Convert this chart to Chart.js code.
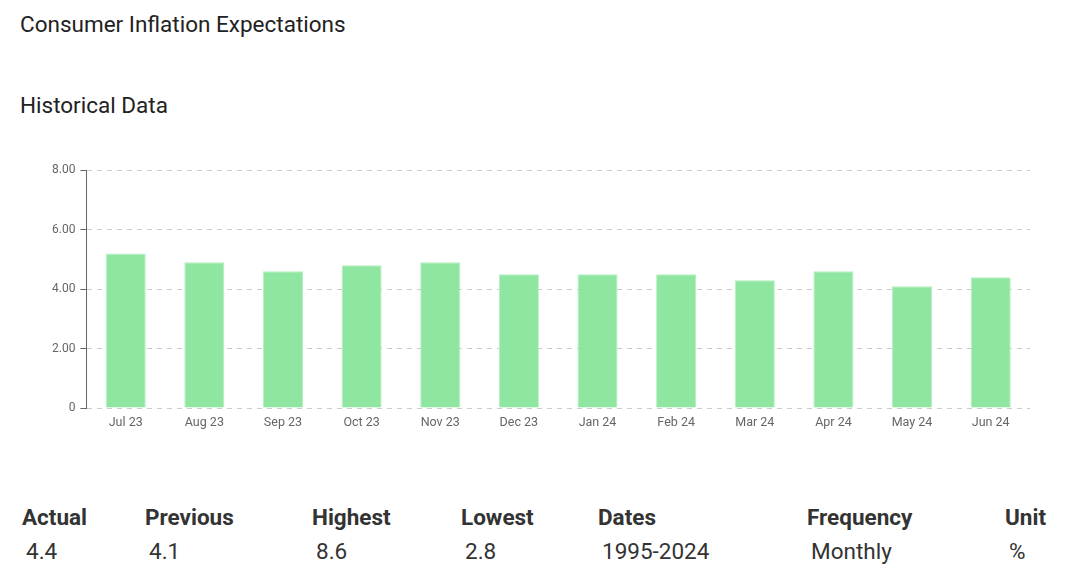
<!DOCTYPE html>
<html>
<head>
<meta charset="utf-8">
<script src="https://cdn.jsdelivr.net/npm/chart.js@4/dist/chart.umd.min.js"></script>
<style>
  html, body { margin:0; padding:0; background:#fff; width:1087px; height:586px; overflow:hidden; font-family: Roboto, sans-serif; color:#222; }
  .t1 { position:absolute; left:20px; top:11px; font-size:22.5px; }
  .t2 { position:absolute; left:20px; top:92px; font-size:22.5px; }
  #wrap { position:absolute; left:47px; top:158px; width:983px; height:271px; }
  .cell { position:absolute; font-size:22.5px; }
  .h { top:504px; font-weight:bold; color:#333; }
  .v { top:538px; color:#333; }
</style>
</head>
<body>
<div class="t1">Consumer Inflation Expectations</div>
<div class="t2">Historical Data</div>
<div id="wrap"><canvas id="c"></canvas></div>
<div id="table"></div>
<script>
const categories = ["Jul 23","Aug 23","Sep 23","Oct 23","Nov 23","Dec 23","Jan 24","Feb 24","Mar 24","Apr 24","May 24","Jun 24"];
const values = [5.2, 4.9, 4.6, 4.8, 4.9, 4.5, 4.5, 4.5, 4.3, 4.6, 4.1, 4.4];
const yTicks = [0, 2, 4, 6, 8];
const statHeaders = ["Actual","Previous","Highest","Lowest","Dates","Frequency","Unit"];
const statValues = ["4.4","4.1","8.6","2.8","1995-2024","Monthly","%"];
const statX = [22, 145, 312, 461, 598, 807, 1005];

const tbl = document.getElementById('table');
statHeaders.forEach((h, i) => {
  const a = document.createElement('div'); a.className = 'cell h'; a.style.left = statX[i] + 'px'; a.textContent = h; tbl.appendChild(a);
  const b = document.createElement('div'); b.className = 'cell v'; b.style.left = (statX[i] + 4) + 'px'; b.textContent = statValues[i]; tbl.appendChild(b);
});

Chart.defaults.font.family = 'Roboto, sans-serif';
new Chart(document.getElementById('c'), {
  type: 'bar',
  data: {
    labels: categories,
    datasets: [{
      data: values,
      backgroundColor: '#8ee6a0',
      borderColor: '#b5f0c0',
      borderWidth: 1,
      categoryPercentage: 1,
      barPercentage: 0.51
    }]
  },
  options: {
    responsive: true,
    maintainAspectRatio: false,
    animation: false,
    plugins: { legend: { display: false }, tooltip: { enabled: false } },
    layout: { padding: { left: 0, right: 0, top: 6, bottom: 0 } },
    scales: {
      x: {
        grid: { display: false },
        border: { display: false },
        ticks: { color: '#666', font: { size: 12.5 }, padding: -1 }
      },
      y: {
        min: 0, max: 8,
        afterBuildTicks: (s) => { s.ticks = yTicks.map(v => ({ value: v })); },
        grid: { color: '#cccccc', tickColor: '#666', tickLength: 6, tickBorderDash: [] },
        border: { display: true, color: '#666', width: 1, dash: [5, 5] },
        ticks: { color: '#666', font: { size: 12 }, padding: 5, callback: v => v === 0 ? '0' : v.toFixed(2) }
      }
    }
  }
});
</script>
</body>
</html>
